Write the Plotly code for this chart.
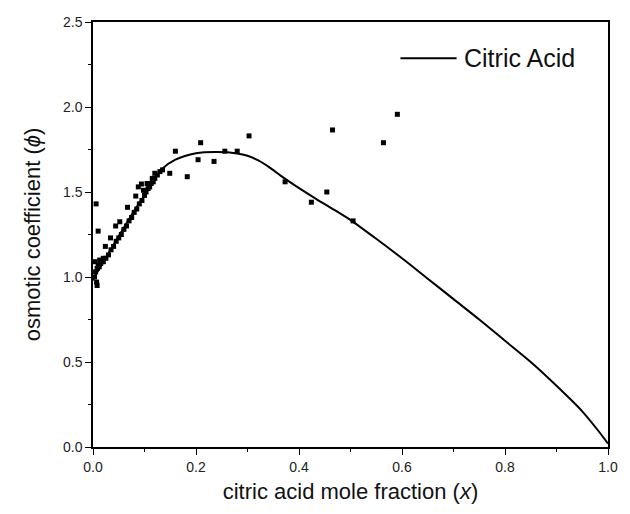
import plotly.graph_objects as go

# model curve (Citric Acid)
curve_x = [0, 0.003, 0.05, 0.08, 0.1, 0.118, 0.134, 0.16, 0.2, 0.24, 0.28, 0.30, 0.32, 0.344,
           0.365, 0.389, 0.433, 0.471, 0.5, 0.55, 0.6, 0.65, 0.7, 0.75, 0.8, 0.85, 0.9, 0.95,
           0.98, 1.0]
curve_y = [0.98, 1.0, 1.24, 1.39, 1.48, 1.57, 1.635, 1.69, 1.728, 1.735, 1.727, 1.713, 1.687,
           1.642, 1.595, 1.545, 1.46, 1.39, 1.335, 1.225, 1.11, 0.99, 0.87, 0.75, 0.625, 0.50,
           0.36, 0.21, 0.10, 0.02]

# experimental points
pts_x = [0.005, 0.008, 0.012, 0.015, 0.02, 0.025, 0.03, 0.035, 0.04, 0.045, 0.05, 0.055, 0.06,
         0.065, 0.07, 0.075, 0.08, 0.085, 0.09, 0.095, 0.1, 0.103, 0.107, 0.11, 0.113, 0.117,
         0.12, 0.125, 0.13, 0.135,
         0.024, 0.034, 0.044, 0.052, 0.067, 0.083, 0.088, 0.094, 0.098, 0.105, 0.115, 0.12,
         0.004, 0.013, 0.02, 0.006, 0.01, 0.007, 0.008, 0.003, 0.01,
         0.149, 0.16, 0.183, 0.204, 0.209, 0.235, 0.256, 0.28, 0.303, 0.373, 0.424, 0.454,
         0.465, 0.505, 0.564, 0.591]
pts_y = [1.03, 1.05, 1.06, 1.08, 1.09, 1.11, 1.13, 1.16, 1.18, 1.21, 1.23, 1.25, 1.28,
         1.30, 1.33, 1.35, 1.38, 1.40, 1.43, 1.45, 1.48, 1.50, 1.52, 1.53, 1.55, 1.56,
         1.58, 1.60, 1.62, 1.63,
         1.18, 1.23, 1.30, 1.325, 1.41, 1.476, 1.53, 1.547, 1.51, 1.55, 1.58, 1.61,
         1.09, 1.10, 1.11, 1.43, 1.27, 0.97, 0.95, 1.0, 1.07,
         1.61, 1.74, 1.59, 1.69, 1.79, 1.68, 1.74, 1.74, 1.83, 1.56, 1.44, 1.50,
         1.865, 1.33, 1.79, 1.957]

font = "Liberation Sans, Arial, sans-serif"

fig = go.Figure()
fig.add_trace(go.Scatter(x=pts_x, y=pts_y, mode="markers", showlegend=False,
                         marker=dict(symbol="square", size=5, color="black")))
fig.add_trace(go.Scatter(x=curve_x, y=curve_y, mode="lines", name="Citric Acid", showlegend=False,
                         line=dict(color="black", width=2, shape="spline", smoothing=0.8)))

axis_common = dict(showline=True, linecolor="black", linewidth=1.5, mirror=True,
                   ticks="outside", ticklen=6, tickwidth=1.2, tickcolor="black",
                   showgrid=False, zeroline=False,
                   tickfont=dict(family=font, size=14, color="#222"))
fig.update_xaxes(range=[0, 1.0], dtick=0.2, tickformat=".1f",
                 minor=dict(ticks="outside", ticklen=3, dtick=0.1, tickcolor="black"),
                 title=dict(text="citric acid mole fraction (<i>x</i>)",
                            font=dict(family=font, size=22, color="#111"), standoff=10),
                 **axis_common)
fig.update_yaxes(range=[0, 2.5], dtick=0.5, tickformat=".1f",
                 minor=dict(ticks="outside", ticklen=3, dtick=0.25, tickcolor="black"),
                 title=dict(text="osmotic coefficient (<i>ϕ</i>)",
                            font=dict(family=font, size=22, color="#111"), standoff=16),
                 **axis_common)

# legend drawn manually (longer line sample than Plotly's default)
fig.add_shape(type="line", xref="paper", yref="paper", x0=0.597, x1=0.706, y0=0.915, y1=0.915,
              line=dict(color="black", width=2))
fig.add_annotation(xref="paper", yref="paper", x=0.717, y=0.915, xanchor="left", yanchor="middle",
                   text="Citric Acid", showarrow=False,
                   font=dict(family=font, size=25, color="#111"))

fig.update_layout(width=630, height=514, plot_bgcolor="white", paper_bgcolor="white",
                  margin=dict(l=93, r=13, t=22, b=67), showlegend=False)
fig.write_html("out.html")
